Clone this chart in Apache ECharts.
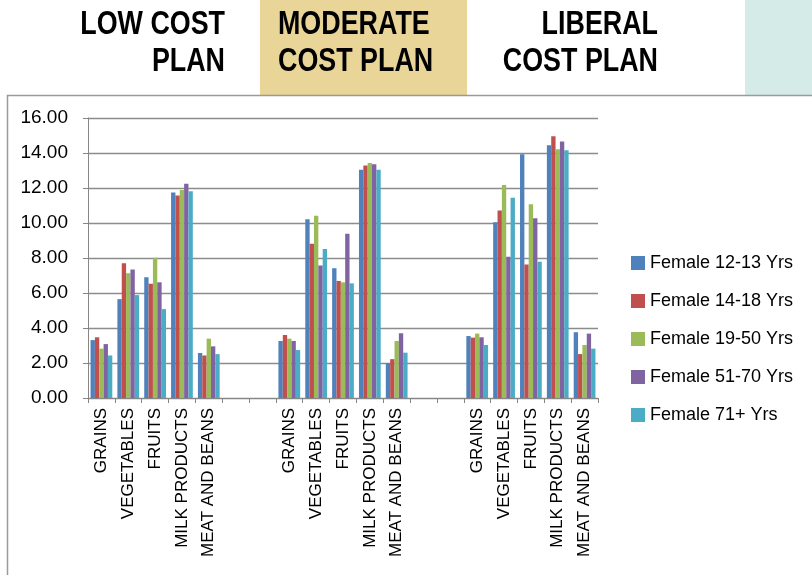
<!DOCTYPE html>
<html>
<head>
<meta charset="utf-8">
<script src="https://cdn.jsdelivr.net/npm/echarts@6/dist/echarts.min.js"></script>
<style>html,body{margin:0;padding:0;background:#fff;}#c{width:812px;height:575px;}</style>
</head>
<body>
<div id="c"></div>
<script>
var categories = ['GRAINS','VEGETABLES','FRUITS','MILK PRODUCTS','MEAT AND BEANS','','',
  'GRAINS','VEGETABLES','FRUITS','MILK PRODUCTS','MEAT AND BEANS','','',
  'GRAINS','VEGETABLES','FRUITS','MILK PRODUCTS','MEAT AND BEANS'];
var seriesNames = ['Female 12-13 Yrs','Female 14-18 Yrs','Female 19-50 Yrs','Female 51-70 Yrs','Female 71+ Yrs'];
var female12_13 = [3.31,5.65,6.90,11.75,2.57,null,null, 3.26,10.21,7.42,13.05,1.99,null,null, 3.54,10.04,13.93,14.45,3.76];
var female14_18 = [3.47,7.70,6.53,11.57,2.43,null,null, 3.60,8.81,6.69,13.28,2.22,null,null, 3.45,10.71,7.63,14.96,2.51];
var female19_50 = [2.82,7.13,8.01,11.88,3.39,null,null, 3.39,10.42,6.61,13.43,3.26,null,null, 3.68,12.17,11.07,14.22,3.03];
var female51_70 = [3.08,7.34,6.61,12.24,2.95,null,null, 3.26,7.57,9.39,13.36,3.70,null,null, 3.47,8.07,10.27,14.66,3.68];
var female71 = [2.43,5.88,5.08,11.82,2.51,null,null, 2.74,8.51,6.55,13.05,2.59,null,null, 3.03,11.44,7.78,14.16,2.82];
var yTicks = {min:0, max:16, interval:2};
var headerLines = [['LOW COST','PLAN'],['MODERATE','COST PLAN'],['LIBERAL','COST PLAN']];

var colors = ['#4F81BD','#C0504D','#9BBB59','#8064A2','#4BACC6'];
var allData = [female12_13,female14_18,female19_50,female51_70,female71];

var chart = echarts.init(document.getElementById('c'));
var hFont = 'bold 34px "Liberation Sans", Arial, sans-serif';
function htext(t, x, y, align){
  return {type:'text', x:x, y:y, scaleX:0.79, scaleY:1,
    style:{text:t, font:hFont, fill:'#000', textAlign:align, textVerticalAlign:'middle'}, z:5};
}
var option = {
  animation:false,
  color: colors,
  graphic: [
    {type:'rect', shape:{x:260,y:0,width:207,height:95}, style:{fill:'#e9d597'}, z:0},
    {type:'rect', shape:{x:745,y:0,width:67,height:95}, style:{fill:'#d4ebe8'}, z:0},
    {type:'rect', shape:{x:7.5,y:95.5,width:820,height:500}, style:{fill:'none',stroke:'#9a9a9a',lineWidth:1.5}, z:0},
    htext(headerLines[0][0], 225, 25, 'right'),
    htext(headerLines[0][1], 225, 62, 'right'),
    htext(headerLines[1][0], 278, 25, 'left'),
    htext(headerLines[1][1], 278, 62, 'left'),
    htext(headerLines[2][0], 658, 25, 'right'),
    htext(headerLines[2][1], 658, 62, 'right')
  ],
  legend: {
    orient:'vertical', left:626, top:249, itemWidth:14, itemHeight:14, itemGap:20,
    icon:'rect', data: seriesNames,
    textStyle:{fontSize:18, color:'#000', fontFamily:'"Liberation Sans", Arial, sans-serif'}
  },
  grid: {left:88, right:214, top:118, bottom:177, containLabel:false},
  xAxis: {
    type:'category', data: categories, boundaryGap:true,
    axisLine:{lineStyle:{color:'#868686', width:1}},
    axisTick:{show:true, interval:0, length:5, lineStyle:{color:'#868686'}},
    axisLabel:{interval:0, rotate:90, margin:10, fontSize:17, color:'#000', fontFamily:'"Liberation Sans", Arial, sans-serif'}
  },
  yAxis: {
    type:'value', min:yTicks.min, max:yTicks.max, interval:yTicks.interval,
    axisLine:{show:true, lineStyle:{color:'#868686'}},
    axisTick:{show:true, length:5, lineStyle:{color:'#868686'}},
    splitLine:{lineStyle:{color:'#8c8c8c', width:1.3}},
    axisLabel:{formatter:function(v){return v.toFixed(2);}, fontSize:19, color:'#000', margin:20, fontFamily:'"Liberation Sans", Arial, sans-serif'}
  },
  series: seriesNames.map(function(n,i){
    return {name:n, type:'bar', data:allData[i], barGap:'0%', barCategoryGap:'19%',
      itemStyle:{color:colors[i]}};
  })
};
chart.setOption(option);
</script>
</body>
</html>
